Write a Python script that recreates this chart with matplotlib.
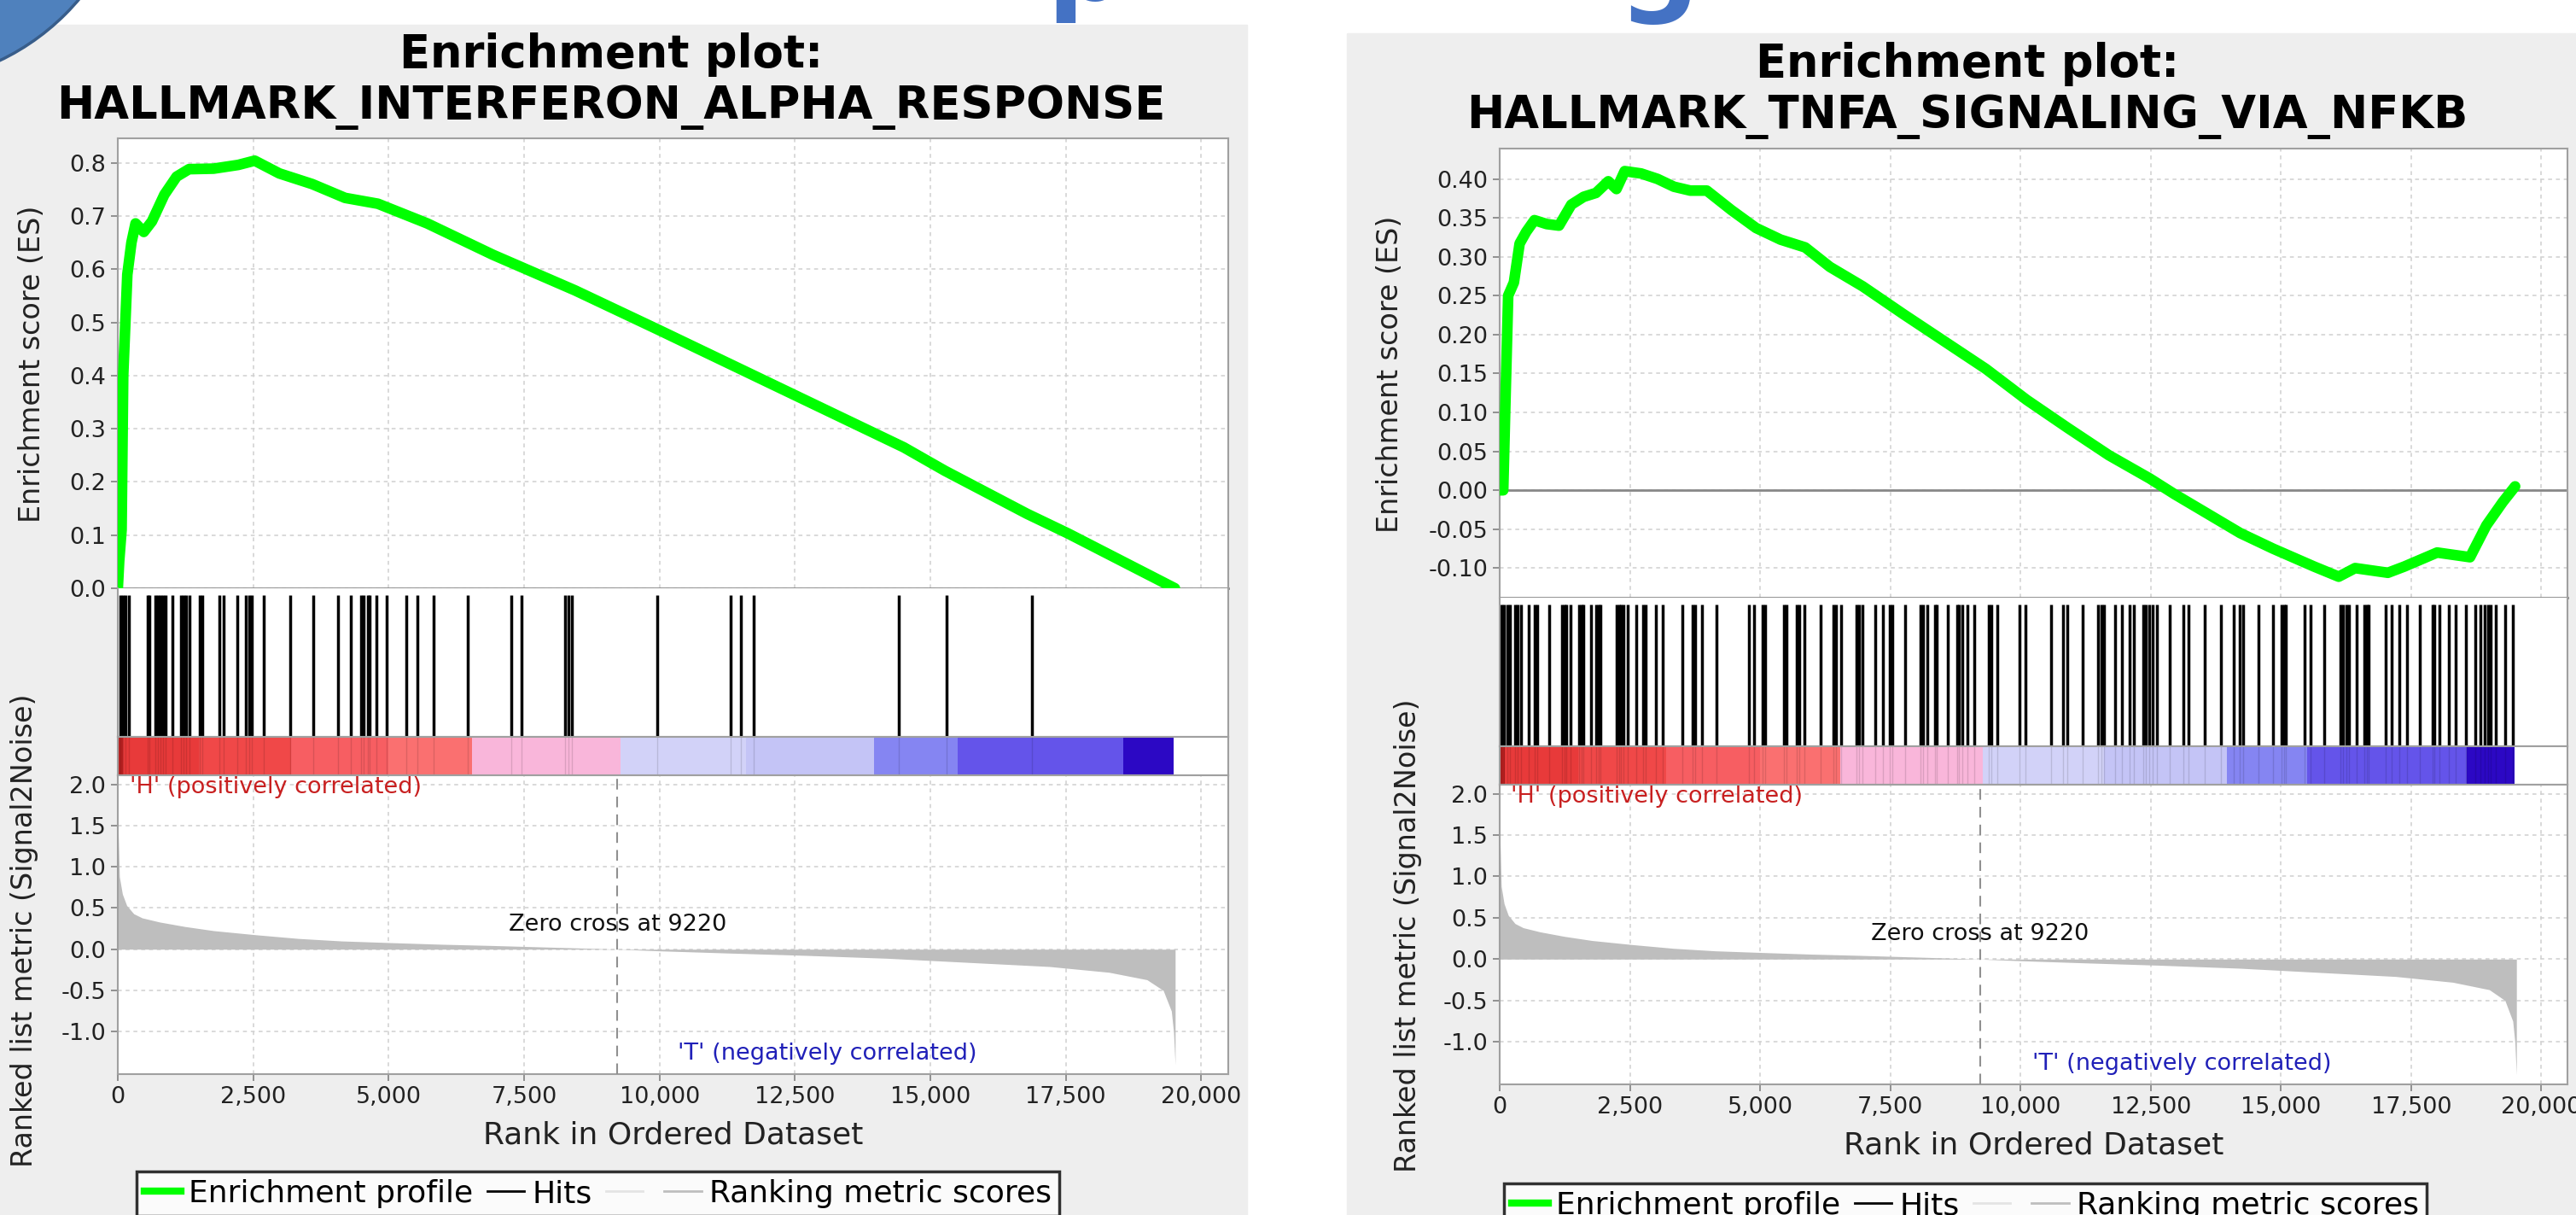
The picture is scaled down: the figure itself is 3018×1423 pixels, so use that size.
import numpy as np
import matplotlib
matplotlib.use('Agg')
import matplotlib.pyplot as plt
from matplotlib.patches import Rectangle, Ellipse
from matplotlib.lines import Line2D
from matplotlib.ticker import FuncFormatter

plt.rcParams['font.family'] = ['DejaVu Sans']

W, H = 3018, 1423

# ---- data ----
rank_ticks = [0, 2500, 5000, 7500, 10000, 12500, 15000, 17500, 20000]
zero_cross = 9220

# ranked list metric (Signal2Noise), same list for both gene sets
metric_rank = [0, 30, 85, 165, 295, 450, 770, 1240, 1770, 2550, 3340, 4130, 5020,
               5970, 6900, 7700, 8500, 9220, 10000, 11200, 12700, 14200, 15700,
               17200, 18300, 19000, 19300, 19450, 19490, 19520]
metric_val = [1.6, 0.88, 0.67, 0.53, 0.43, 0.38, 0.33, 0.275, 0.225, 0.175, 0.13,
              0.10, 0.08, 0.06, 0.045, 0.03, 0.015, 0.0, -0.02, -0.045, -0.075,
              -0.11, -0.16, -0.21, -0.28, -0.37, -0.5, -0.75, -1.0, -1.4]

# HALLMARK_INTERFERON_ALPHA_RESPONSE
ifn_rank = [0, 25, 70, 100, 176, 252, 328, 480, 631, 859, 1086, 1314, 1769, 2224,
            2528, 2982, 3589, 4196, 4802, 5713, 6926, 8443, 9960, 11477, 12993,
            14510, 15268, 16786, 17544, 19515]
ifn_es = [0.0, 0.05, 0.11, 0.40, 0.59, 0.65, 0.686, 0.67, 0.69, 0.74, 0.774, 0.788,
          0.789, 0.796, 0.804, 0.78, 0.76, 0.734, 0.723, 0.686, 0.627, 0.56, 0.487,
          0.413, 0.339, 0.265, 0.221, 0.14, 0.103, 0.0]
ifn_hits = [40, 90, 140, 200, 555, 590, 690, 740, 790, 840, 885, 1005, 1165, 1215,
            1265, 1320, 1505, 1565, 1870, 1955, 2199, 2360, 2420, 2475, 2701, 3176,
            3611, 4058, 4303, 4490, 4545, 4610, 4650, 4778, 4968, 5320, 5524, 5823,
            6460, 7261, 7451, 8260, 8320, 8380, 9962, 11319, 11495, 11740, 14413,
            15295, 16883]

# HALLMARK_TNFA_SIGNALING_VIA_NFKB
tnf_rank = [0, 68, 115, 163, 273, 383, 509, 667, 903, 1139, 1376, 1612, 1849, 2085,
            2242, 2400, 2715, 3030, 3345, 3660, 3976, 4448, 4921, 5394, 5866, 6339,
            6969, 7757, 8545, 9333, 10120, 10908, 11696, 12484, 12956, 13587, 14217,
            14847, 15635, 16108, 16423, 17053, 17368, 17998, 18629, 18944, 19259, 19495]
tnf_es = [0.0, 0.0, 0.126, 0.25, 0.267, 0.317, 0.332, 0.347, 0.342, 0.34, 0.367,
          0.377, 0.382, 0.397, 0.387, 0.41, 0.407, 0.40, 0.39, 0.385, 0.385, 0.36,
          0.337, 0.322, 0.312, 0.287, 0.262, 0.226, 0.191, 0.156, 0.116, 0.08, 0.045,
          0.015, -0.005, -0.03, -0.055, -0.075, -0.098, -0.111, -0.10, -0.106, -0.098,
          -0.08, -0.086, -0.045, -0.015, 0.005]
tnf_hits = [40, 90, 140, 190, 300, 350, 415, 549, 680, 715, 948, 1195, 1240, 1280,
            1362, 1525, 1570, 1610, 1754, 1850, 1895, 1935, 2245, 2290, 2330, 2370,
            2464, 2615, 2760, 2795, 2994, 3132, 3511, 3705, 3750, 3890, 4166, 4786,
            4889, 5040, 5100, 5465, 5500, 5705, 5745, 5853, 6163, 6415, 6460, 6556,
            6845, 6895, 6969, 7217, 7355, 7495, 7540, 7782, 8085, 8135, 8209, 8360,
            8390, 8595, 8780, 8810, 8884, 8988, 9105, 9390, 9445, 9560, 9986, 10090,
            10578, 10811, 10897, 11197, 11490, 11545, 11600, 11810, 11950, 12096,
            12183, 12355, 12410, 12470, 12535, 12616, 12862, 13129, 13229, 13529,
            13848, 14095, 14205, 14270, 14561, 14847, 15005, 15055, 15090, 15460,
            15560, 15826, 16140, 16195, 16250, 16310, 16459, 16605, 16655, 16690,
            17015, 17125, 17272, 17425, 17672, 17910, 17940, 18045, 18224, 18358,
            18558, 18738, 18824, 18915, 18970, 19030, 19124, 19310, 19457]

# colour strip bands (rank edges) and their colours
cb_edges = [0, 100, 1500, 3200, 5000, 6540, 9280, 11600, 13960, 15500, 18560, 19490]
cb_colors = ['#B82020', '#E83A3A', '#F04848', '#F75E62', '#FA7070', '#F9B6DA',
             '#D2D2F8', '#C4C4F6', '#8585F2', '#6454EA', '#2C08C4']


def box(x0, y0, x1, y1):
    # pixel box (origin top-left) -> figure fraction
    return [x0 / W, 1 - y1 / H, (x1 - x0) / W, (y1 - y0) / H]


def style(ax):
    for s in ax.spines.values():
        s.set_color('#A0A0A0')
        s.set_linewidth(1.5)
    ax.tick_params(labelsize=19.5, length=6, width=1.2, color='#808080',
                   labelcolor='#222222', pad=4)


fig = plt.figure(figsize=(W / 100, H / 100), dpi=100)
fig.patches.append(Rectangle((0, 0), 1461 / W, 1 - 29 / H, transform=fig.transFigure,
                             color='#EEEEEE', zorder=-10))
fig.patches.append(Rectangle((1578 / W, 0), 1 - 1578 / W, 1 - 39 / H,
                             transform=fig.transFigure, color='#EEEEEE', zorder=-10))
fig.patches.append(Ellipse((-120 / W, 1 + 180 / H), 556 / W, 556 / H,
                           transform=fig.transFigure, facecolor='#4F81BD',
                           edgecolor='#385D8A', lw=2.5, zorder=3))

# bottoms of the big slide heading, cut off by the top edge
fig.text(1226 / W, 1.0, 'p', color='#4472C4', fontsize=92, fontweight='bold',
         va='baseline', ha='left')
fig.text(1896 / W, 1.0, 'g', color='#4472C4', fontsize=96, fontweight='bold',
         va='baseline', ha='left')


def panel(p):
    xl, xr = p['xl'], p['xr']
    # enrichment score
    ax1 = fig.add_axes(box(xl, p['es_top'], xr, p['es_bot']))
    ax1.plot(p['rank'], p['es'], color='#00FF00', lw=9, solid_joinstyle='round',
             solid_capstyle='round', zorder=3)
    if p['zero']:
        ax1.axhline(0, color='#888888', lw=2, zorder=2)
    ax1.set_xlim(0, 20500)
    ax1.set_ylim(p['ylim'])
    ax1.set_xticks(rank_ticks)
    ax1.set_yticks(p['yticks'])
    ax1.yaxis.set_major_formatter(FuncFormatter(lambda v, _: p['fmt'] % v))
    ax1.grid(True, color='#D0D0D0', ls=(0, (3, 3)), lw=1.1)
    style(ax1)
    ax1.tick_params(axis='x', length=0, labelbottom=False)
    ax1.spines['bottom'].set_color('#888888')
    ax1.spines['bottom'].set_linewidth(2)

    # hits
    ax2 = fig.add_axes(box(xl, p['es_bot'], xr, p['cb_top']))
    ax2.vlines(p['hits'], 0, 0.954, color='black', lw=2.5)
    ax2.set_xlim(0, 20500)
    ax2.set_ylim(0, 1)
    ax2.set_xticks([])
    ax2.set_yticks([])
    style(ax2)
    ax2.spines['top'].set_visible(False)

    # colour strip
    ax3 = fig.add_axes(box(xl, p['cb_top'], xr, p['cb_bot']))
    for e0, e1, c in zip(cb_edges[:-1], cb_edges[1:], cb_colors):
        ax3.axvspan(e0, e1, color=c, lw=0)
    ax3.vlines(p['hits'], 0, 1, color='black', lw=1, alpha=0.12)
    ax3.set_xlim(0, 20500)
    ax3.set_ylim(0, 1)
    ax3.set_xticks([])
    ax3.set_yticks([])
    style(ax3)

    # ranked list metric
    ax4 = fig.add_axes(box(xl, p['cb_bot'], xr, p['m_bot']))
    ax4.fill_between(metric_rank, metric_val, 0, color='#BEBEBE', lw=0, zorder=2)
    ax4.axvline(zero_cross, color='#909090', ls=(0, (6, 4)), lw=1.5, zorder=3)
    ax4.set_xlim(0, 20500)
    ax4.set_ylim(-1.515, 2.11)
    ax4.set_yticks([-1.0, -0.5, 0.0, 0.5, 1.0, 1.5, 2.0])
    ax4.yaxis.set_major_formatter(FuncFormatter(lambda v, _: '%.1f' % v))
    ax4.set_xticks(rank_ticks)
    ax4.xaxis.set_major_formatter(FuncFormatter(lambda v, _: '{:,.0f}'.format(v)))
    ax4.grid(True, color='#D0D0D0', ls=(0, (3, 3)), lw=1.1)
    style(ax4)
    ax4.text(220, 1.97, "'H' (positively correlated)", color='#C82020', fontsize=19.5,
             va='center', ha='left')
    ax4.text(zero_cross, 0.30, 'Zero cross at 9220', color='#111111', fontsize=19.5,
             va='center', ha='center')
    ax4.text(13100, -1.27, "'T' (negatively correlated)", color='#2020B8',
             fontsize=19.5, va='center', ha='center')

    # titles and labels
    fig.text(p['tx'] / W, 1 - p['t1'] / H, 'Enrichment plot:', fontsize=38,
             fontweight='bold', ha='center', va='baseline')
    fig.text(p['tx'] / W, 1 - p['t2'] / H, p['title'], fontsize=38,
             fontweight='bold', ha='center', va='baseline')
    fig.text(p['yl1'][0] / W, 1 - p['yl1'][1] / H, 'Enrichment score (ES)',
             rotation=90, fontsize=24, ha='center', va='center', color='#222222')
    fig.text(p['yl2'][0] / W, 1 - p['yl2'][1] / H, 'Ranked list metric (Signal2Noise)',
             rotation=90, fontsize=24, ha='center', va='center', color='#222222')
    fig.text((xl + xr) / 2 / W, 1 - p['xly'] / H, 'Rank in Ordered Dataset',
             fontsize=26, ha='center', va='center', color='#222222')

    handles = [Line2D([], [], color='#00FF00', lw=6),
               Line2D([], [], color='black', lw=2),
               Line2D([], [], color='#E4E4E4', lw=2),
               Line2D([], [], color='#BEBEBE', lw=2)]
    labels = ['Enrichment profile', 'Hits', '', 'Ranking metric scores']
    leg = fig.legend(handles, labels, loc='upper left',
                     bbox_to_anchor=(p['lx'] / W, 1 - p['ly'] / H), ncol=4,
                     fontsize=26, frameon=True, fancybox=False, edgecolor='black',
                     handlelength=1.2, handletextpad=0.25, columnspacing=0.45,
                     borderpad=0.25, borderaxespad=0)
    leg.get_frame().set_linewidth(2.5)


panel(dict(xl=138, xr=1439, es_top=162, es_bot=689, cb_top=863, cb_bot=908,
           m_bot=1258, rank=ifn_rank, es=ifn_es, hits=ifn_hits, zero=False,
           ylim=(0, 0.846), yticks=np.arange(0, 0.85, 0.1), fmt='%.1f',
           title='HALLMARK_INTERFERON_ALPHA_RESPONSE', tx=716, t1=79, t2=139,
           yl1=(38, 426), yl2=(29, 1090), xly=1329, lx=160, ly=1372))

panel(dict(xl=1757, xr=3008, es_top=174, es_bot=700, cb_top=874, cb_bot=919,
           m_bot=1270, rank=tnf_rank, es=tnf_es, hits=tnf_hits, zero=True,
           ylim=(-0.138, 0.439), yticks=np.arange(-0.10, 0.41, 0.05), fmt='%.2f',
           title='HALLMARK_TNFA_SIGNALING_VIA_NFKB', tx=2305, t1=90, t2=150,
           yl1=(1629, 438), yl2=(1649, 1096), xly=1341, lx=1762, ly=1386))

fig.savefig('out.png', dpi=100)
